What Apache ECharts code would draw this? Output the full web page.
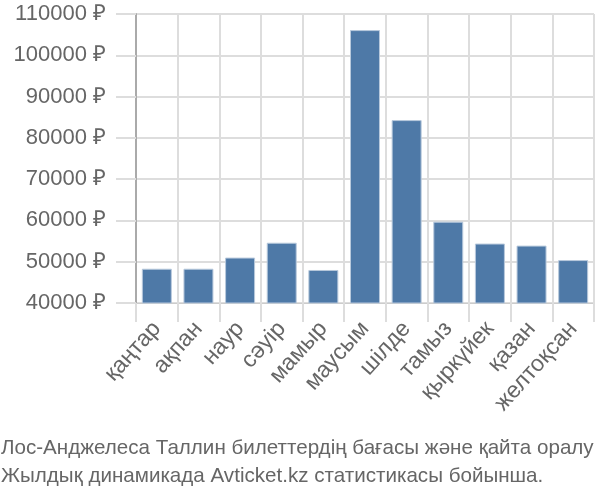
<!DOCTYPE html>
<html><head><meta charset="utf-8">
<script src="https://cdn.jsdelivr.net/npm/echarts@6/dist/echarts.min.js"></script>
<style>html,body{margin:0;padding:0;background:#fff}#c{width:600px;height:500px}</style>
</head><body><div id="c"></div>
<script>
const categories = ['қаңтар','ақпан','наур','сәуір','мамыр','маусым','шілде','тамыз','қыркүйек','қазан','желтоқсан'];
const prices = [48300, 48300, 51000, 54600, 48000, 106100, 84300, 59700, 54400, 53900, 50400];
const yTicks = {min: 40000, max: 110000, interval: 10000};
const titleLines = ['Лос-Анджелеса Таллин билеттердің бағасы және қайта оралу', 'Жылдық динамикада Avticket.kz статистикасы бойынша.'];

const chart = echarts.init(document.getElementById('c'), null, {renderer: 'canvas'});
chart.setOption({
  animation: false,
  title: {
    text: titleLines.join('\n'),
    left: 1, top: 434, padding: 0,
    textStyle: {fontFamily: 'Liberation Sans, Arial, sans-serif', fontSize: 20.6, fontWeight: 'normal', color: '#666', lineHeight: 28}
  },
  grid: {left: 136, right: 6, top: 14, bottom: 197, containLabel: false},
  xAxis: {
    type: 'category', data: categories,
    axisLine: {show: true, lineStyle: {color: '#ccc'}},
    axisTick: {show: true, length: 19, lineStyle: {color: '#ddd', width: 2}},
    splitLine: {show: true, lineStyle: {color: '#ddd', width: 2}},
    axisLabel: {rotate: 48, fontSize: 23, color: '#666', fontFamily: 'Liberation Sans, Arial, sans-serif', margin: 22, interval: 0}
  },
  yAxis: {
    type: 'value', min: yTicks.min, max: yTicks.max, interval: yTicks.interval,
    axisLine: {show: true, lineStyle: {color: '#aaa', width: 2}},
    axisTick: {show: true, length: 20, lineStyle: {color: '#ddd', width: 2}},
    splitLine: {show: true, lineStyle: {color: '#ddd', width: 2}},
    axisLabel: {fontSize: 22, color: '#666', fontFamily: 'Liberation Sans, Arial, sans-serif', margin: 30, formatter: v => v + ' ₽'}
  },
  series: [{
    type: 'bar', data: prices, barCategoryGap: '28%',
    itemStyle: {color: '#4e79a7', borderColor: '#b8c9dc', borderWidth: 1}
  }]
});
</script></body></html>
